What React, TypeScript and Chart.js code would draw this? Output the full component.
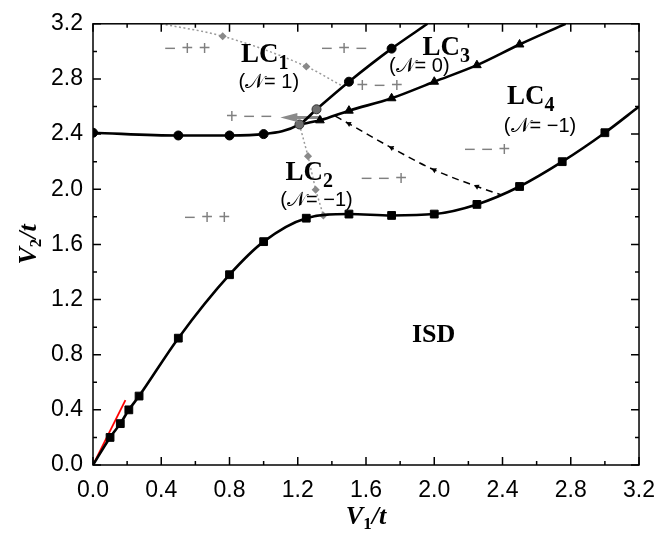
import React, { useEffect, useRef } from 'react';
import { Chart, registerables } from 'chart.js';
Chart.register(...registerables);

// ---- axis ticks ----
const xTickValues = [0, 0.4, 0.8, 1.2, 1.6, 2.0, 2.4, 2.8, 3.2];
const xTickLabels = ['0.0', '0.4', '0.8', '1.2', '1.6', '2.0', '2.4', '2.8', '3.2'];
const yTickValues = [0, 0.4, 0.8, 1.2, 1.6, 2.0, 2.4, 2.8, 3.2];
const yTickLabels = ['0.0', '0.4', '0.8', '1.2', '1.6', '2.0', '2.4', '2.8', '3.2'];

// ---- ISD boundary (squares) ----
const sqX = [0, 0.1, 0.16, 0.21, 0.27, 0.5, 0.8, 1.0, 1.25, 1.5, 1.75, 2.0, 2.25, 2.5, 2.75, 3.0, 3.2];
const sqY = [0, 0.2, 0.3, 0.4, 0.5, 0.92, 1.38, 1.62, 1.79, 1.82, 1.81, 1.82, 1.89, 2.02, 2.2, 2.41, 2.6];
const sqMarked = [0, 1, 1, 1, 1, 1, 1, 1, 1, 1, 1, 1, 1, 1, 1, 1, 0];

// ---- LC1 / LC2 boundary (circles) ----
const ciX = [0, 0.5, 0.8, 1.0, 1.21, 1.31, 1.5, 1.75, 1.96];
const ciY = [2.41, 2.39, 2.39, 2.4, 2.47, 2.58, 2.78, 3.02, 3.2];
const ciMarked = [1, 1, 1, 1, 1, 1, 1, 1, 0];
const ciGray = [0, 0, 0, 0, 1, 1, 0, 0, 0];

// ---- LC3 / LC4 boundary (triangles) ----
const trX = [1.21, 1.33, 1.5, 1.75, 2.0, 2.25, 2.5, 2.77];
const trY = [2.47, 2.5, 2.57, 2.66, 2.78, 2.9, 3.05, 3.2];
const trMarked = [0, 1, 1, 1, 1, 1, 1, 0];

// ---- small-V asymptote (red) ----
const redX = [0, 0.19];
const redY = [0, 0.47];

// ---- gray dotted paths ----
const lc1X = [0.4, 0.76, 1.25, 1.46];
const lc1Y = [3.2, 3.11, 2.89, 2.75];
const lc1Marked = [0, 1, 1, 0];
const lc2X = [1.21, 1.26, 1.305, 1.35];
const lc2Y = [2.47, 2.24, 1.996, 1.81];
const lc2Marked = [0, 1, 1, 1];

// ---- black dashed flow path ----
const flowX = [1.42, 1.5, 1.75, 2.0, 2.25, 2.39];
const flowY = [2.53, 2.475, 2.3, 2.14, 2.02, 1.96];
const flowMarked = [0, 1, 1, 1, 1, 0];

// ---- gray arrow ----
const grayArrowX = [1.14, 1.34];
const grayArrowY = [2.52, 2.52];
const grayArrowTip = [1.098, 2.52];

// ---- annotations ----
const signTexts = ['\u2212 + +', '\u2212 + \u2212', '+ \u2212 +', '+ \u2212 \u2212', '\u2212 \u2212 +', '\u2212 \u2212 +', '\u2212 + +'];
const signX = [0.553, 1.472, 1.68, 0.915, 2.31, 1.705, 0.668];
const signY = [3.013, 3.013, 2.742, 2.523, 2.283, 2.068, 1.786];

const lcSubs = ['1', '3', '4', '2'];
const lcX = [0.867, 1.931, 2.426, 1.128];
const lcY = [2.92, 2.977, 2.618, 2.066];
const chernTexts = ['(\u{1D4A9}= 1)', '(\u{1D4A9}= 0)', '(\u{1D4A9}= \u22121)', '(\u{1D4A9}= \u22121)'];
const chernX = [1.03, 1.912, 2.62, 1.31];
const chernY = [2.776, 2.887, 2.457, 1.915];
const isdText = 'ISD';
const isdPos = [1.996, 0.94];

const pts = (xs: number[], ys: number[]) => xs.map((x, i) => ({ x, y: ys[i] }));

type Part = { text: string; font: string; dy?: number };
function rich(ctx: CanvasRenderingContext2D, parts: Part[], x: number, y: number, align: string, rot = 0, color = '#000') {
  ctx.save();
  ctx.translate(x, y);
  if (rot) ctx.rotate(rot);
  let w = 0;
  for (const p of parts) { ctx.font = p.font; w += ctx.measureText(p.text).width; }
  let cx = align === 'center' ? -w / 2 : 0;
  ctx.textAlign = 'left';
  ctx.textBaseline = 'alphabetic';
  ctx.fillStyle = color;
  for (const p of parts) {
    ctx.font = p.font;
    ctx.fillText(p.text, cx, p.dy || 0);
    cx += ctx.measureText(p.text).width;
  }
  ctx.restore();
}

const SERIF = '"Liberation Serif", "Times New Roman", serif';
const SANS = '"Liberation Sans", Arial, sans-serif';

const decor = {
  id: 'decor',
  afterDraw(chart: any) {
    const { ctx, chartArea: a, scales } = chart;
    const px = (v: number) => scales.x.getPixelForValue(v);
    const py = (v: number) => scales.y.getPixelForValue(v);
    ctx.save();
    // frame
    ctx.strokeStyle = '#000';
    ctx.lineWidth = 1.5;
    ctx.strokeRect(a.left, a.top, a.right - a.left, a.bottom - a.top);
    // ticks (inward, all four sides)
    const drawX = (v: number, len: number) => {
      const X = px(v);
      ctx.beginPath();
      ctx.moveTo(X, a.bottom); ctx.lineTo(X, a.bottom - len);
      ctx.moveTo(X, a.top); ctx.lineTo(X, a.top + len);
      ctx.stroke();
    };
    const drawY = (v: number, len: number) => {
      const Y = py(v);
      ctx.beginPath();
      ctx.moveTo(a.left, Y); ctx.lineTo(a.left + len, Y);
      ctx.moveTo(a.right, Y); ctx.lineTo(a.right - len, Y);
      ctx.stroke();
    };
    xTickValues.forEach((v, i) => {
      drawX(v, 8);
      if (i < xTickValues.length - 1) drawX((v + xTickValues[i + 1]) / 2, 4);
    });
    yTickValues.forEach((v, i) => {
      drawY(v, 8);
      if (i < yTickValues.length - 1) drawY((v + yTickValues[i + 1]) / 2, 4);
    });

    // gray arrow head
    {
      const tx = px(grayArrowTip[0]);
      const ty = py(grayArrowTip[1]);
      ctx.fillStyle = '#8a8a8a';
      ctx.beginPath();
      ctx.moveTo(tx, ty);
      ctx.lineTo(tx + 17, ty - 4.5);
      ctx.lineTo(tx + 17, ty + 4.5);
      ctx.closePath();
      ctx.fill();
    }

    // sign labels
    ctx.font = `20px ${SANS}`;
    ctx.fillStyle = '#808080';
    ctx.textAlign = 'center';
    ctx.textBaseline = 'middle';
    signTexts.forEach((t, i) => ctx.fillText(t, px(signX[i]), py(signY[i])));

    // LC labels
    lcSubs.forEach((s, i) => {
      rich(ctx, [
        { text: 'LC', font: `bold 27px ${SERIF}` },
        { text: s, font: `bold 20px ${SERIF}`, dy: 7 },
      ], px(lcX[i]), py(lcY[i]), 'left');
    });
    ctx.font = `20px ${SANS}`;
    ctx.fillStyle = '#000';
    ctx.textAlign = 'center';
    ctx.textBaseline = 'middle';
    chernTexts.forEach((t, i) => ctx.fillText(t, px(chernX[i]), py(chernY[i])));

    ctx.font = `bold 26px ${SERIF}`;
    ctx.fillText(isdText, px(isdPos[0]), py(isdPos[1]));

    // axis titles
    rich(ctx, [
      { text: 'V', font: `italic bold 26px ${SERIF}` },
      { text: '1', font: `bold 17px ${SERIF}`, dy: 5 },
      { text: '/t', font: `italic bold 26px ${SERIF}` },
    ], (a.left + a.right) / 2, a.bottom + 59, 'center');
    rich(ctx, [
      { text: 'V', font: `italic bold 26px ${SERIF}` },
      { text: '2', font: `bold 17px ${SERIF}`, dy: 5 },
      { text: '/t', font: `italic bold 26px ${SERIF}` },
    ], 36, (a.top + a.bottom) / 2, 'center', -Math.PI / 2);
    ctx.restore();
  },
};

export default function App() {
  const ref = useRef<HTMLCanvasElement>(null);
  useEffect(() => {
    if (!ref.current) return;
    const black = '#000';
    const chart = new Chart(ref.current, {
      type: 'scatter',
      data: {
        datasets: [
          {
            data: pts(ciX, ciY), showLine: true, borderColor: black, borderWidth: 2.6,
            cubicInterpolationMode: 'monotone', pointStyle: 'circle',
            pointRadius: ciMarked.map((m) => (m ? 4.5 : 0)),
            pointBackgroundColor: ciGray.map((g) => (g ? '#6e6e6e' : black)),
            pointBorderColor: ciGray.map((g) => (g ? '#333' : black)),
            pointBorderWidth: 1, clip: 0,
          } as any,
          {
            data: pts(trX, trY), showLine: true, borderColor: black, borderWidth: 2.6,
            cubicInterpolationMode: 'monotone', pointStyle: 'triangle',
            pointRadius: trMarked.map((m) => (m ? 5 : 0)),
            pointBackgroundColor: black, pointBorderColor: black, pointBorderWidth: 1, clip: 0,
          } as any,
          {
            data: pts(sqX, sqY), showLine: true, borderColor: black, borderWidth: 2.6,
            cubicInterpolationMode: 'monotone', pointStyle: 'rect',
            pointRadius: sqMarked.map((m) => (m ? 5.5 : 0)),
            pointBackgroundColor: black, pointBorderColor: black, pointBorderWidth: 1, clip: 0,
          } as any,
          {
            data: pts(redX, redY), showLine: true, borderColor: '#ff0000', borderWidth: 1.8,
            pointRadius: 0, clip: 0,
          } as any,
          {
            data: pts(flowX, flowY), showLine: true, borderColor: black, borderWidth: 1.5,
            borderDash: [7, 5], cubicInterpolationMode: 'monotone', pointStyle: 'triangle',
            pointRotation: -64, pointRadius: flowMarked.map((m) => (m ? 3.2 : 0)),
            pointBackgroundColor: black, pointBorderColor: black, pointBorderWidth: 0, clip: 0,
          } as any,
          {
            data: pts(grayArrowX, grayArrowY), showLine: true, borderColor: '#8a8a8a', borderWidth: 3,
            pointRadius: 0, clip: 0,
          } as any,
          {
            data: pts(lc1X, lc1Y), showLine: true, borderColor: '#9a9a9a', borderWidth: 1.5,
            borderDash: [2, 2.5], cubicInterpolationMode: 'monotone', pointStyle: 'rectRot',
            pointRadius: lc1Marked.map((m) => (m ? 3 : 0)),
            pointBackgroundColor: '#8a8a8a', pointBorderColor: '#8a8a8a', clip: 0,
          } as any,
          {
            data: pts(lc2X, lc2Y), showLine: true, borderColor: '#9a9a9a', borderWidth: 1.5,
            borderDash: [2, 2.5], pointStyle: 'rectRot',
            pointRadius: lc2Marked.map((m) => (m ? 3 : 0)),
            pointBackgroundColor: '#8a8a8a', pointBorderColor: '#8a8a8a', clip: 0,
          } as any,
        ],
      },
      options: {
        animation: false,
        responsive: false,
        events: [],
        layout: { padding: { top: 19, right: 24, left: 0, bottom: 0 } },
        plugins: { legend: { display: false }, tooltip: { enabled: false } },
        scales: {
          x: {
            type: 'linear', min: 0, max: 3.2,
            grid: { display: false, drawTicks: false },
            border: { display: false },
            afterBuildTicks: (s: any) => { s.ticks = xTickValues.map((v) => ({ value: v })); },
            afterFit: (s: any) => { s.height = 68; },
            ticks: {
              autoSkip: false, maxRotation: 0, padding: 12, color: '#000',
              font: { family: SANS, size: 23 },
              callback: (_v: any, i: number) => xTickLabels[i],
            },
          },
          y: {
            type: 'linear', min: 0, max: 3.2,
            grid: { display: false, drawTicks: false },
            border: { display: false },
            afterBuildTicks: (s: any) => { s.ticks = yTickValues.map((v) => ({ value: v })); },
            afterFit: (s: any) => { s.width = 93; },
            ticks: {
              autoSkip: false, padding: 10, color: '#000',
              font: { family: SANS, size: 23 },
              callback: (_v: any, i: number) => yTickLabels[i],
            },
          },
        },
      },
      plugins: [decor],
    } as any);
    return () => chart.destroy();
  }, []);
  return (
    <div style={{ position: 'fixed', left: 0, top: 0, width: 667, height: 533, background: '#fff' }}>
      <canvas ref={ref} width={667} height={533} style={{ display: 'block' }} />
    </div>
  );
}
